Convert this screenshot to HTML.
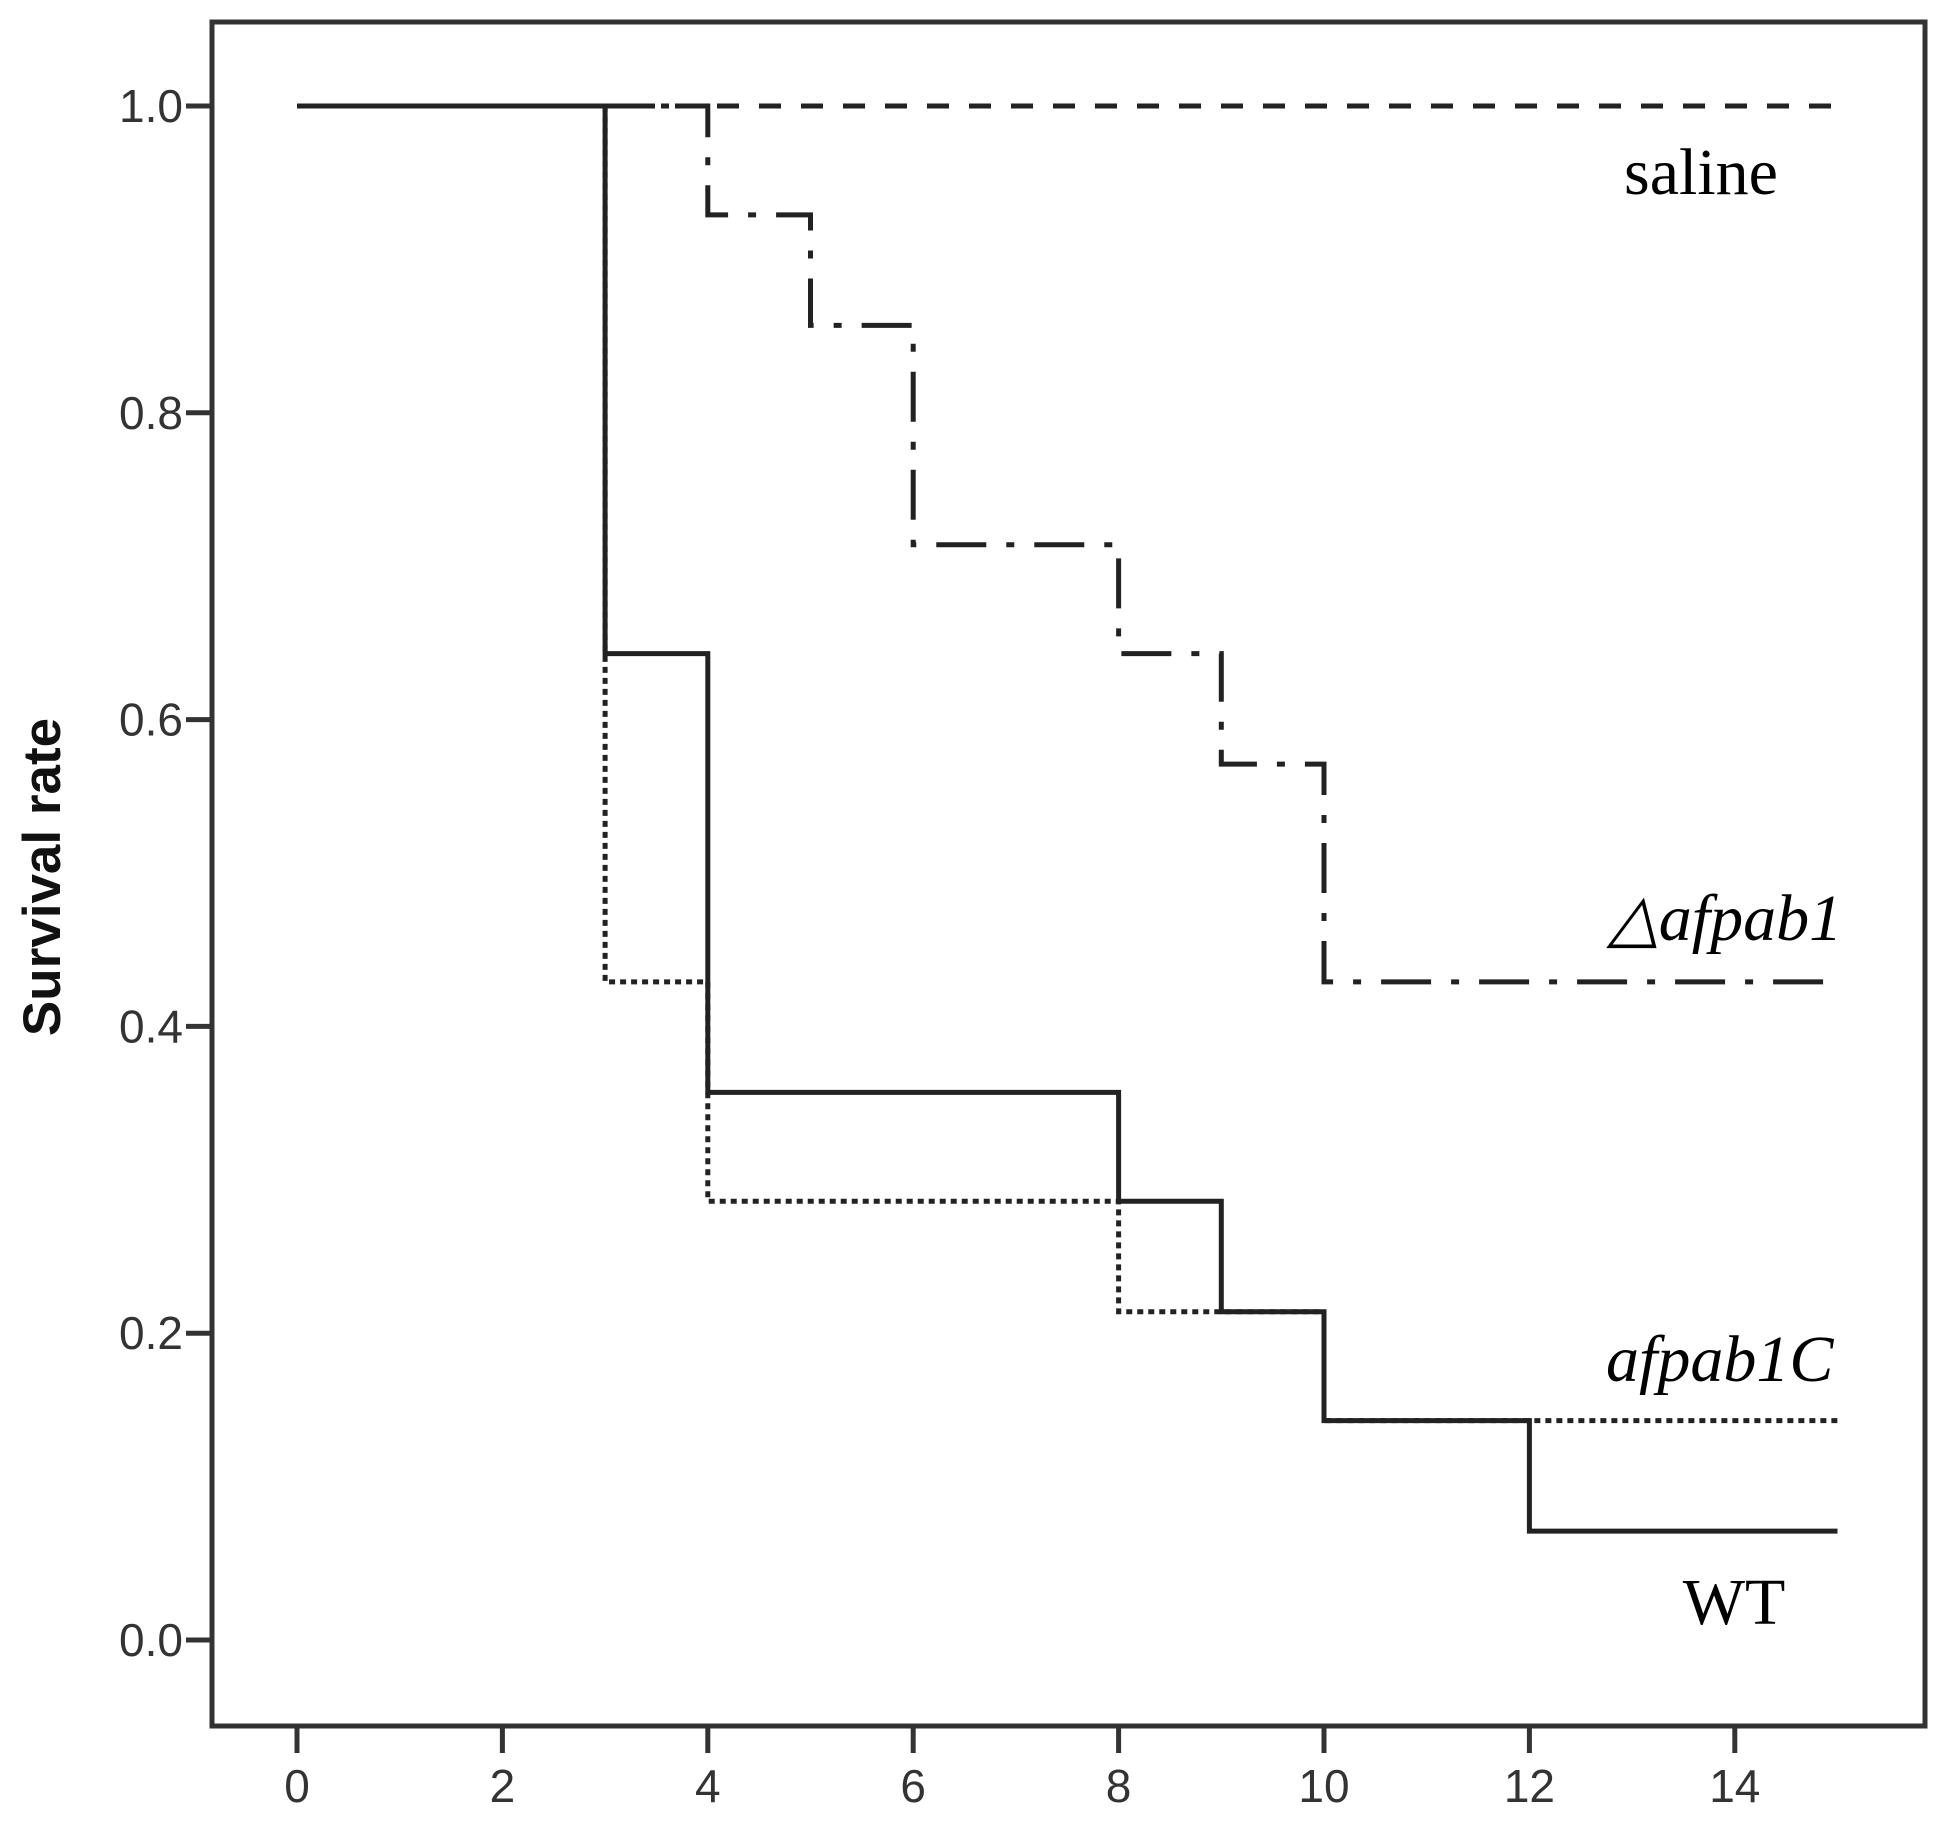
<!DOCTYPE html>
<html><head><meta charset="utf-8"><style>
html,body{margin:0;padding:0;background:#fff;}
svg{display:block;}
</style></head><body>
<svg id="chart" width="1948" height="1828" viewBox="0 0 1948 1828" xmlns="http://www.w3.org/2000/svg">
<rect x="212" y="22" width="1713" height="1704" fill="#fff" stroke="#333" stroke-width="5"/>
<g id="axes"></g>
<g id="series"></g>
<text x="0" y="0" transform="translate(60,877) rotate(-90)" text-anchor="middle" font-family="Liberation Sans, sans-serif" font-weight="bold" font-size="53" fill="#111">Survival rate</text>
<text x="1701" y="194" text-anchor="middle" font-family="Liberation Serif, serif" font-size="66" fill="#000">saline</text>
<text x="1608" y="940" font-family="Liberation Serif, serif" font-style="italic" font-size="66" fill="#000">△afpab1</text>
<text x="1606" y="1381" font-family="Liberation Serif, serif" font-style="italic" font-size="66" fill="#000">afpab1C</text>
<text x="1734" y="1624" text-anchor="middle" font-family="Liberation Serif, serif" font-size="66" fill="#000">WT</text>
</svg>
<script>
const xTicks = [0,2,4,6,8,10,12,14];
const yTicks = [0.0,0.2,0.4,0.6,0.8,1.0];
const yTickLabels = ["0.0","0.2","0.4","0.6","0.8","1.0"];
const endDay = 15;
const salineTimes = [0];
const salineValues = [1.0];
const deltaTimes = [0,4,5,6,8,9,10];
const deltaValues = [1.0,0.929,0.857,0.714,0.643,0.571,0.429];
const compTimes = [0,3,4,8,10];
const compValues = [1.0,0.429,0.286,0.214,0.143];
const wtTimes = [0,3,4,8,9,10,12];
const wtValues = [1.0,0.643,0.357,0.286,0.214,0.143,0.071];

const NS="http://www.w3.org/2000/svg";
function xs(d){return 297+d*102.7;}
function ys(v){return 1640-v*1534;}
const axes=document.getElementById('axes');
xTicks.forEach((t,i)=>{
  const l=document.createElementNS(NS,'line');
  
  
  l.setAttribute('x1',xs(t));l.setAttribute('x2',xs(t));l.setAttribute('y1',1726);l.setAttribute('y2',1753);
  l.setAttribute('stroke','#333');l.setAttribute('stroke-width','5');axes.appendChild(l);
  const tx=document.createElementNS(NS,'text');
  
  
  tx.setAttribute('x',xs(t));tx.setAttribute('y',1802);tx.setAttribute('text-anchor','middle');
  tx.setAttribute('font-family','Liberation Sans, sans-serif');tx.setAttribute('font-size','46');tx.setAttribute('fill','#333');
  tx.textContent=String(t);axes.appendChild(tx);
});
yTicks.forEach((t,i)=>{
  const l=document.createElementNS(NS,'line');
  
  
  l.setAttribute('x1',186);l.setAttribute('x2',212);l.setAttribute('y1',ys(t));l.setAttribute('y2',ys(t));
  l.setAttribute('stroke','#333');l.setAttribute('stroke-width','5');axes.appendChild(l);
  const tx=document.createElementNS(NS,'text');
  
  
  tx.setAttribute('x',183);tx.setAttribute('y',ys(t)+16);tx.setAttribute('text-anchor','end');
  tx.setAttribute('font-family','Liberation Sans, sans-serif');tx.setAttribute('font-size','46');tx.setAttribute('fill','#333');
  tx.textContent=yTickLabels[i];axes.appendChild(tx);
});
function stepPath(times,vals){
  let d='M'+xs(times[0])+','+ys(vals[0]);
  for(let i=1;i<times.length;i++){d+=' H'+xs(times[i])+' V'+ys(vals[i]);}
  d+=' H'+xs(endDay);return d;
}
const ser=document.getElementById('series');
function addSeries(name,times,vals,dash){
  const p=document.createElementNS(NS,'path');
  
  
  p.setAttribute('d',stepPath(times,vals));p.setAttribute('fill','none');
  p.setAttribute('stroke','#222');p.setAttribute('stroke-width','5');
  if(dash)p.setAttribute('stroke-dasharray',dash);
  ser.appendChild(p);
}
addSeries('saline-line',salineTimes,salineValues,'22 20');
addSeries('delta-afpab1-line',deltaTimes,deltaValues,'50 20 8 20');
addSeries('afpab1c-line',compTimes,compValues,'6 5');
addSeries('wt-line',wtTimes,wtValues,null);
</script>
</body></html>
